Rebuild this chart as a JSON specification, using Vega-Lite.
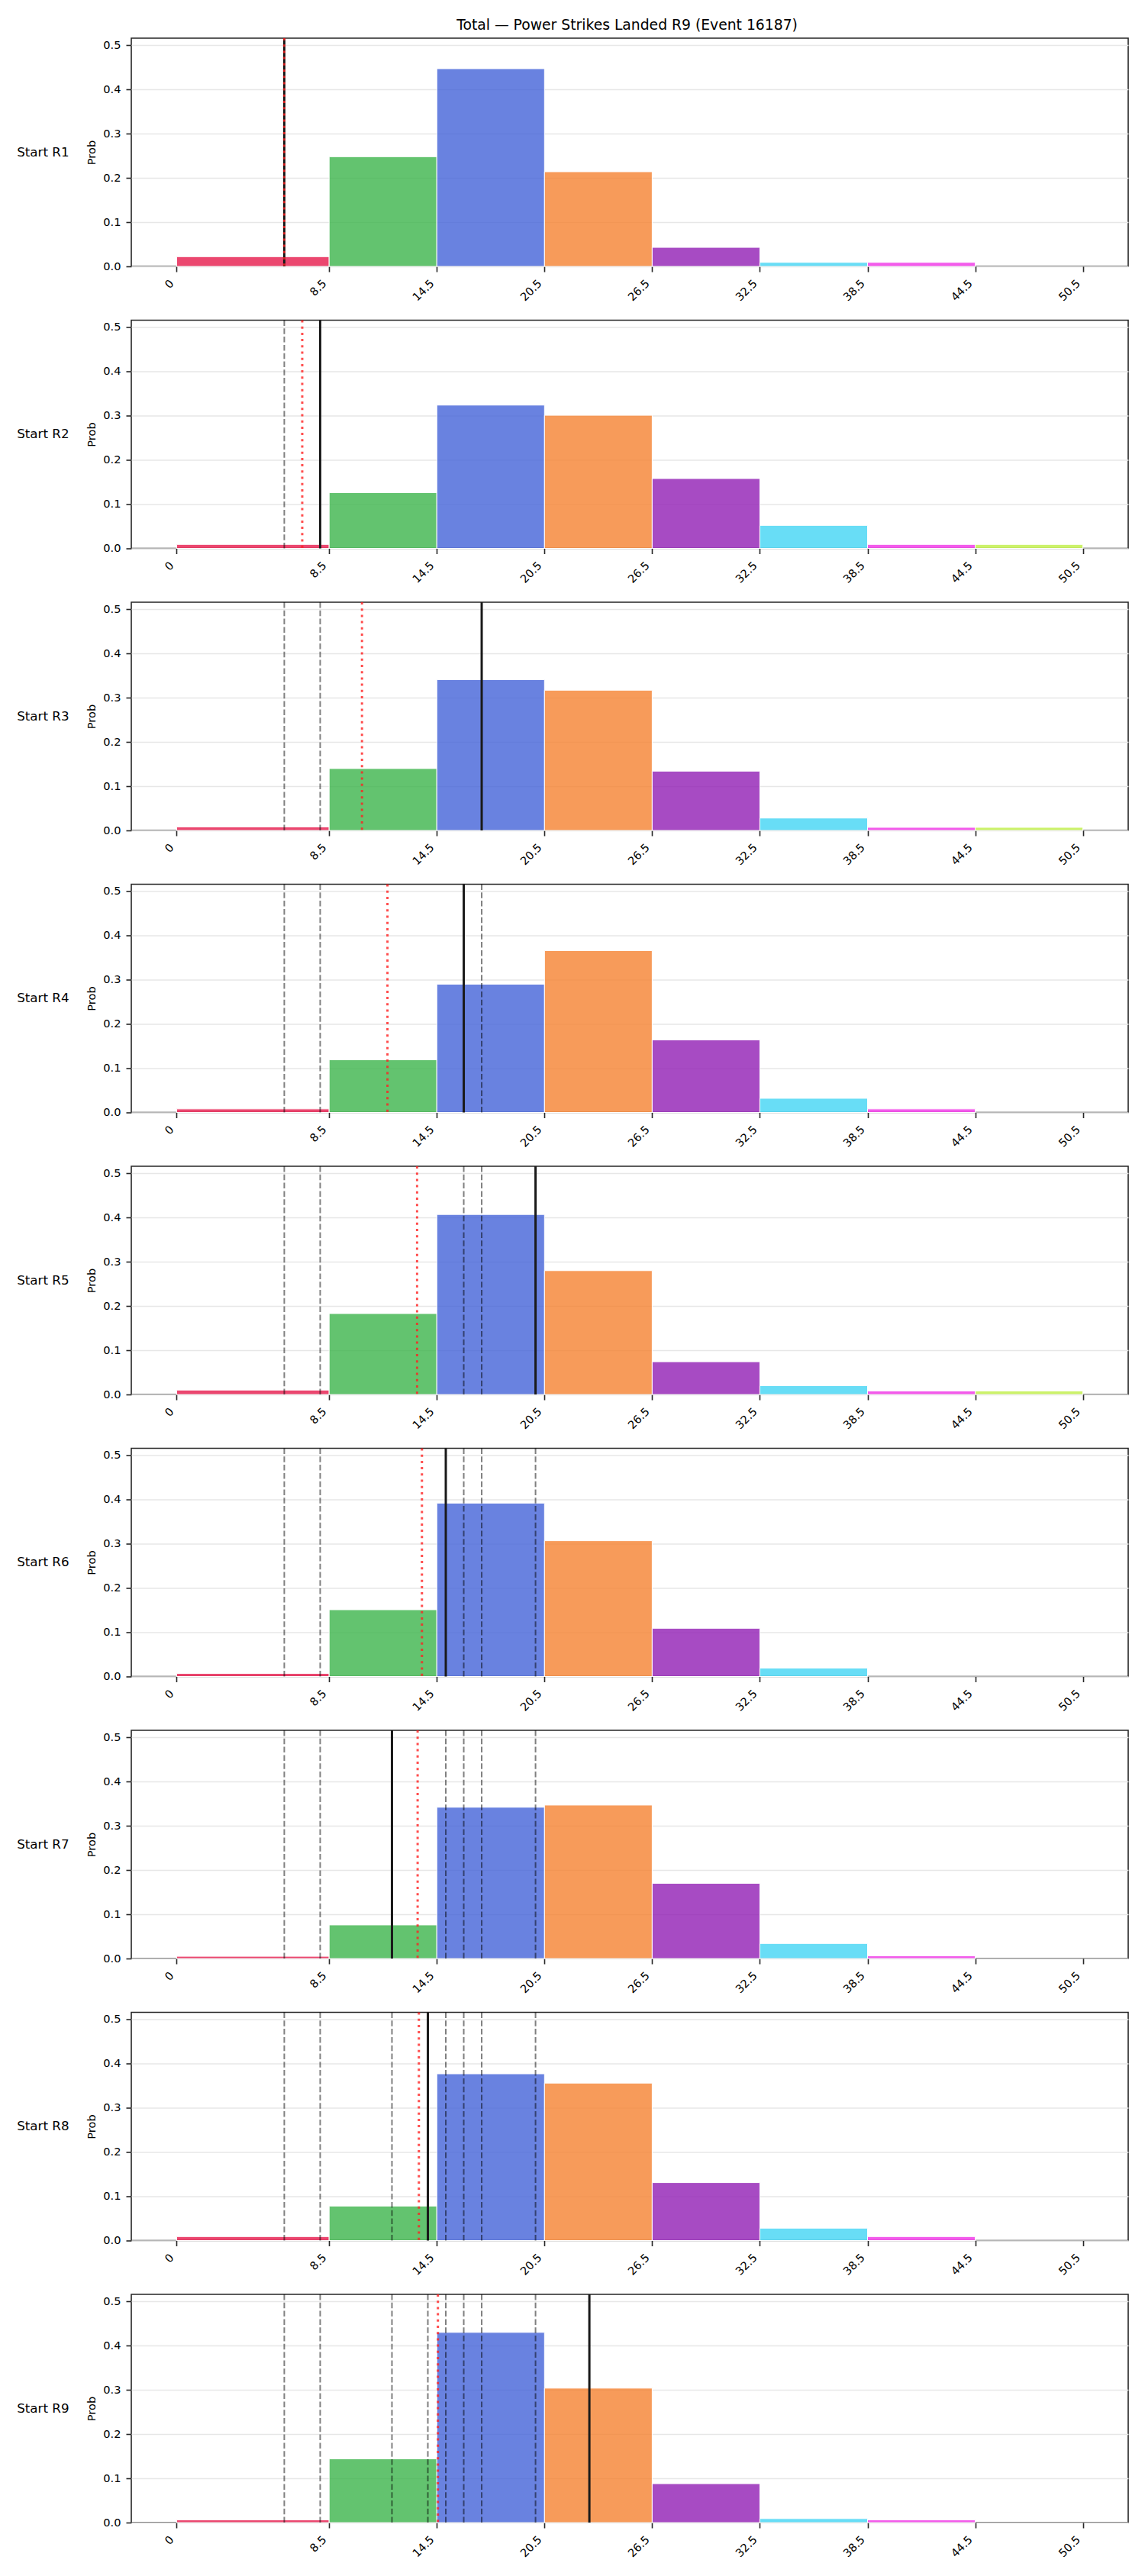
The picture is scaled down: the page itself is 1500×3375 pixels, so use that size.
{
  "$schema": "https://vega.github.io/schema/vega-lite/v6.json",
  "padding": {"left": 22, "top": 23, "right": 5, "bottom": 5},
  "background": "white",
  "title": {
    "text": "Total — Power Strikes Landed R9 (Event 16187)",
    "font": "DejaVu Sans",
    "fontSize": 18.75,
    "fontWeight": "normal",
    "color": "black",
    "anchor": "middle",
    "baseline": "alphabetic",
    "offset": -10,
    "dx": 71
  },
  "config": {
    "view": {"stroke": "#262626", "strokeWidth": 1.6},
    "font": "DejaVu Sans"
  },
  "data": {
    "values": [
      {"panel": "Start R1", "type": "bar", "bin": "0-8.5", "lo": 0, "hi": 8.5, "p": 0.022},
      {"panel": "Start R1", "type": "bar", "bin": "8.5-14.5", "lo": 8.5, "hi": 14.5, "p": 0.248},
      {"panel": "Start R1", "type": "bar", "bin": "14.5-20.5", "lo": 14.5, "hi": 20.5, "p": 0.447},
      {"panel": "Start R1", "type": "bar", "bin": "20.5-26.5", "lo": 20.5, "hi": 26.5, "p": 0.214},
      {"panel": "Start R1", "type": "bar", "bin": "26.5-32.5", "lo": 26.5, "hi": 32.5, "p": 0.043},
      {"panel": "Start R1", "type": "bar", "bin": "32.5-38.5", "lo": 32.5, "hi": 38.5, "p": 0.009},
      {"panel": "Start R1", "type": "bar", "bin": "38.5-44.5", "lo": 38.5, "hi": 44.5, "p": 0.009},

      {"panel": "Start R2", "type": "bar", "bin": "0-8.5", "lo": 0, "hi": 8.5, "p": 0.009},
      {"panel": "Start R2", "type": "bar", "bin": "8.5-14.5", "lo": 8.5, "hi": 14.5, "p": 0.126},
      {"panel": "Start R2", "type": "bar", "bin": "14.5-20.5", "lo": 14.5, "hi": 20.5, "p": 0.324},
      {"panel": "Start R2", "type": "bar", "bin": "20.5-26.5", "lo": 20.5, "hi": 26.5, "p": 0.301},
      {"panel": "Start R2", "type": "bar", "bin": "26.5-32.5", "lo": 26.5, "hi": 32.5, "p": 0.158},
      {"panel": "Start R2", "type": "bar", "bin": "32.5-38.5", "lo": 32.5, "hi": 38.5, "p": 0.052},
      {"panel": "Start R2", "type": "bar", "bin": "38.5-44.5", "lo": 38.5, "hi": 44.5, "p": 0.009},
      {"panel": "Start R2", "type": "bar", "bin": "44.5-50.5", "lo": 44.5, "hi": 50.5, "p": 0.009},

      {"panel": "Start R3", "type": "bar", "bin": "0-8.5", "lo": 0, "hi": 8.5, "p": 0.008},
      {"panel": "Start R3", "type": "bar", "bin": "8.5-14.5", "lo": 8.5, "hi": 14.5, "p": 0.140},
      {"panel": "Start R3", "type": "bar", "bin": "14.5-20.5", "lo": 14.5, "hi": 20.5, "p": 0.341},
      {"panel": "Start R3", "type": "bar", "bin": "20.5-26.5", "lo": 20.5, "hi": 26.5, "p": 0.317},
      {"panel": "Start R3", "type": "bar", "bin": "26.5-32.5", "lo": 26.5, "hi": 32.5, "p": 0.134},
      {"panel": "Start R3", "type": "bar", "bin": "32.5-38.5", "lo": 32.5, "hi": 38.5, "p": 0.028},
      {"panel": "Start R3", "type": "bar", "bin": "38.5-44.5", "lo": 38.5, "hi": 44.5, "p": 0.007},
      {"panel": "Start R3", "type": "bar", "bin": "44.5-50.5", "lo": 44.5, "hi": 50.5, "p": 0.007},

      {"panel": "Start R4", "type": "bar", "bin": "0-8.5", "lo": 0, "hi": 8.5, "p": 0.008},
      {"panel": "Start R4", "type": "bar", "bin": "8.5-14.5", "lo": 8.5, "hi": 14.5, "p": 0.119},
      {"panel": "Start R4", "type": "bar", "bin": "14.5-20.5", "lo": 14.5, "hi": 20.5, "p": 0.290},
      {"panel": "Start R4", "type": "bar", "bin": "20.5-26.5", "lo": 20.5, "hi": 26.5, "p": 0.366},
      {"panel": "Start R4", "type": "bar", "bin": "26.5-32.5", "lo": 26.5, "hi": 32.5, "p": 0.164},
      {"panel": "Start R4", "type": "bar", "bin": "32.5-38.5", "lo": 32.5, "hi": 38.5, "p": 0.032},
      {"panel": "Start R4", "type": "bar", "bin": "38.5-44.5", "lo": 38.5, "hi": 44.5, "p": 0.008},

      {"panel": "Start R5", "type": "bar", "bin": "0-8.5", "lo": 0, "hi": 8.5, "p": 0.010},
      {"panel": "Start R5", "type": "bar", "bin": "8.5-14.5", "lo": 8.5, "hi": 14.5, "p": 0.183},
      {"panel": "Start R5", "type": "bar", "bin": "14.5-20.5", "lo": 14.5, "hi": 20.5, "p": 0.407},
      {"panel": "Start R5", "type": "bar", "bin": "20.5-26.5", "lo": 20.5, "hi": 26.5, "p": 0.280},
      {"panel": "Start R5", "type": "bar", "bin": "26.5-32.5", "lo": 26.5, "hi": 32.5, "p": 0.074},
      {"panel": "Start R5", "type": "bar", "bin": "32.5-38.5", "lo": 32.5, "hi": 38.5, "p": 0.020},
      {"panel": "Start R5", "type": "bar", "bin": "38.5-44.5", "lo": 38.5, "hi": 44.5, "p": 0.008},
      {"panel": "Start R5", "type": "bar", "bin": "44.5-50.5", "lo": 44.5, "hi": 50.5, "p": 0.008},

      {"panel": "Start R6", "type": "bar", "bin": "0-8.5", "lo": 0, "hi": 8.5, "p": 0.007},
      {"panel": "Start R6", "type": "bar", "bin": "8.5-14.5", "lo": 8.5, "hi": 14.5, "p": 0.151},
      {"panel": "Start R6", "type": "bar", "bin": "14.5-20.5", "lo": 14.5, "hi": 20.5, "p": 0.392},
      {"panel": "Start R6", "type": "bar", "bin": "20.5-26.5", "lo": 20.5, "hi": 26.5, "p": 0.307},
      {"panel": "Start R6", "type": "bar", "bin": "26.5-32.5", "lo": 26.5, "hi": 32.5, "p": 0.109},
      {"panel": "Start R6", "type": "bar", "bin": "32.5-38.5", "lo": 32.5, "hi": 38.5, "p": 0.019},

      {"panel": "Start R7", "type": "bar", "bin": "0-8.5", "lo": 0, "hi": 8.5, "p": 0.005},
      {"panel": "Start R7", "type": "bar", "bin": "8.5-14.5", "lo": 8.5, "hi": 14.5, "p": 0.076},
      {"panel": "Start R7", "type": "bar", "bin": "14.5-20.5", "lo": 14.5, "hi": 20.5, "p": 0.342},
      {"panel": "Start R7", "type": "bar", "bin": "20.5-26.5", "lo": 20.5, "hi": 26.5, "p": 0.347},
      {"panel": "Start R7", "type": "bar", "bin": "26.5-32.5", "lo": 26.5, "hi": 32.5, "p": 0.170},
      {"panel": "Start R7", "type": "bar", "bin": "32.5-38.5", "lo": 32.5, "hi": 38.5, "p": 0.034},
      {"panel": "Start R7", "type": "bar", "bin": "38.5-44.5", "lo": 38.5, "hi": 44.5, "p": 0.006},

      {"panel": "Start R8", "type": "bar", "bin": "0-8.5", "lo": 0, "hi": 8.5, "p": 0.009},
      {"panel": "Start R8", "type": "bar", "bin": "8.5-14.5", "lo": 8.5, "hi": 14.5, "p": 0.078},
      {"panel": "Start R8", "type": "bar", "bin": "14.5-20.5", "lo": 14.5, "hi": 20.5, "p": 0.377},
      {"panel": "Start R8", "type": "bar", "bin": "20.5-26.5", "lo": 20.5, "hi": 26.5, "p": 0.356},
      {"panel": "Start R8", "type": "bar", "bin": "26.5-32.5", "lo": 26.5, "hi": 32.5, "p": 0.131},
      {"panel": "Start R8", "type": "bar", "bin": "32.5-38.5", "lo": 32.5, "hi": 38.5, "p": 0.028},
      {"panel": "Start R8", "type": "bar", "bin": "38.5-44.5", "lo": 38.5, "hi": 44.5, "p": 0.009},

      {"panel": "Start R9", "type": "bar", "bin": "0-8.5", "lo": 0, "hi": 8.5, "p": 0.006},
      {"panel": "Start R9", "type": "bar", "bin": "8.5-14.5", "lo": 8.5, "hi": 14.5, "p": 0.144},
      {"panel": "Start R9", "type": "bar", "bin": "14.5-20.5", "lo": 14.5, "hi": 20.5, "p": 0.430},
      {"panel": "Start R9", "type": "bar", "bin": "20.5-26.5", "lo": 20.5, "hi": 26.5, "p": 0.304},
      {"panel": "Start R9", "type": "bar", "bin": "26.5-32.5", "lo": 26.5, "hi": 32.5, "p": 0.088},
      {"panel": "Start R9", "type": "bar", "bin": "32.5-38.5", "lo": 32.5, "hi": 38.5, "p": 0.009},
      {"panel": "Start R9", "type": "bar", "bin": "38.5-44.5", "lo": 38.5, "hi": 44.5, "p": 0.006},

      {"panel": "Start R2", "type": "prev", "x": 6},
      {"panel": "Start R3", "type": "prev", "x": 6},
      {"panel": "Start R3", "type": "prev", "x": 8},
      {"panel": "Start R4", "type": "prev", "x": 6},
      {"panel": "Start R4", "type": "prev", "x": 8},
      {"panel": "Start R4", "type": "prev", "x": 17},
      {"panel": "Start R5", "type": "prev", "x": 6},
      {"panel": "Start R5", "type": "prev", "x": 8},
      {"panel": "Start R5", "type": "prev", "x": 17},
      {"panel": "Start R5", "type": "prev", "x": 16},
      {"panel": "Start R6", "type": "prev", "x": 6},
      {"panel": "Start R6", "type": "prev", "x": 8},
      {"panel": "Start R6", "type": "prev", "x": 17},
      {"panel": "Start R6", "type": "prev", "x": 16},
      {"panel": "Start R6", "type": "prev", "x": 20},
      {"panel": "Start R7", "type": "prev", "x": 6},
      {"panel": "Start R7", "type": "prev", "x": 8},
      {"panel": "Start R7", "type": "prev", "x": 17},
      {"panel": "Start R7", "type": "prev", "x": 16},
      {"panel": "Start R7", "type": "prev", "x": 20},
      {"panel": "Start R7", "type": "prev", "x": 15},
      {"panel": "Start R8", "type": "prev", "x": 6},
      {"panel": "Start R8", "type": "prev", "x": 8},
      {"panel": "Start R8", "type": "prev", "x": 17},
      {"panel": "Start R8", "type": "prev", "x": 16},
      {"panel": "Start R8", "type": "prev", "x": 20},
      {"panel": "Start R8", "type": "prev", "x": 15},
      {"panel": "Start R8", "type": "prev", "x": 12},
      {"panel": "Start R9", "type": "prev", "x": 6},
      {"panel": "Start R9", "type": "prev", "x": 8},
      {"panel": "Start R9", "type": "prev", "x": 17},
      {"panel": "Start R9", "type": "prev", "x": 16},
      {"panel": "Start R9", "type": "prev", "x": 20},
      {"panel": "Start R9", "type": "prev", "x": 15},
      {"panel": "Start R9", "type": "prev", "x": 12},
      {"panel": "Start R9", "type": "prev", "x": 14},

      {"panel": "Start R1", "type": "actual", "x": 6},
      {"panel": "Start R2", "type": "actual", "x": 8},
      {"panel": "Start R3", "type": "actual", "x": 17},
      {"panel": "Start R4", "type": "actual", "x": 16},
      {"panel": "Start R5", "type": "actual", "x": 20},
      {"panel": "Start R6", "type": "actual", "x": 15},
      {"panel": "Start R7", "type": "actual", "x": 12},
      {"panel": "Start R8", "type": "actual", "x": 14},
      {"panel": "Start R9", "type": "actual", "x": 23},

      {"panel": "Start R1", "type": "mean", "x": 6},
      {"panel": "Start R2", "type": "mean", "x": 7},
      {"panel": "Start R3", "type": "mean", "x": 10.33},
      {"panel": "Start R4", "type": "mean", "x": 11.75},
      {"panel": "Start R5", "type": "mean", "x": 13.4},
      {"panel": "Start R6", "type": "mean", "x": 13.67},
      {"panel": "Start R7", "type": "mean", "x": 13.43},
      {"panel": "Start R8", "type": "mean", "x": 13.5},
      {"panel": "Start R9", "type": "mean", "x": 14.56}
    ]
  },
  "facet": {
    "row": {
      "field": "panel",
      "type": "nominal",
      "header": {
        "title": null,
        "labelAngle": 0,
        "labelOrient": "left",
        "labelAlign": "right",
        "labelBaseline": "middle",
        "labelFont": "DejaVu Sans",
        "labelFontSize": 16.7,
        "labelColor": "black",
        "labelPadding": -46
      }
    }
  },
  "spacing": {"row": 70.5},
  "bounds": "flush",
  "resolve": {"axis": {"x": "independent"}},
  "spec": {
    "width": 1306,
    "height": 299,
    "layer": [
      {
        "transform": [{"filter": "datum.type === 'bar'"}],
        "mark": {"type": "rect", "fillOpacity": 0.8, "stroke": "white", "strokeWidth": 1},
        "encoding": {
          "x": {
            "field": "lo",
            "type": "quantitative",
            "title": null,
            "scale": {"domain": [-2.525, 53.025], "nice": false, "zero": false},
            "axis": {
              "values": [0, 8.5, 14.5, 20.5, 26.5, 32.5, 38.5, 44.5, 50.5],
              "labelExpr": "datum.value === 0 ? '0' : format(datum.value, '.1f')",
              "title": null,
              "grid": false,
              "domain": false,
              "tickSize": 7,
              "tickWidth": 1.6,
              "tickColor": "#262626",
              "labelAngle": -45,
              "labelAlign": "right",
              "labelBaseline": "middle",
              "labelOffset": -6,
              "labelPadding": 13,
              "labelFlush": false,
              "labelOverlap": false,
              "labelFont": "DejaVu Sans",
              "labelFontSize": 14.6,
              "labelColor": "black"
            }
          },
          "x2": {"field": "hi"},
          "y": {
            "field": "p",
            "type": "quantitative",
            "scale": {"domain": [0, 0.516], "nice": false},
            "axis": {
              "values": [0, 0.1, 0.2, 0.3, 0.4, 0.5],
              "format": ".1f",
              "title": "Prob",
              "titleFont": "DejaVu Sans",
              "titleFontSize": 14.6,
              "titleFontWeight": "normal",
              "titleColor": "black",
              "titlePadding": 7,
              "grid": true,
              "gridColor": "#e7e7e7",
              "gridWidth": 1.5,
              "domain": false,
              "tickSize": 7,
              "tickWidth": 1.6,
              "tickColor": "#262626",
              "labelPadding": 7,
              "labelFont": "DejaVu Sans",
              "labelFontSize": 14.6,
              "labelColor": "black"
            }
          },
          "y2": {"datum": 0},
          "color": {
            "field": "bin",
            "type": "nominal",
            "legend": null,
            "scale": {
              "domain": ["0-8.5", "8.5-14.5", "14.5-20.5", "20.5-26.5", "26.5-32.5", "32.5-38.5", "38.5-44.5", "44.5-50.5"],
              "range": ["#e6194B", "#3cb44b", "#4363d8", "#f58231", "#911eb4", "#42d4f4", "#f032e6", "#bfef45"]
            }
          }
        }
      },
      {
        "transform": [{"filter": "datum.type === 'prev'"}],
        "mark": {"type": "rule", "color": "black", "opacity": 0.5, "strokeWidth": 2, "strokeDash": [7.5, 3.3]},
        "encoding": {"x": {"field": "x", "type": "quantitative", "title": null}}
      },
      {
        "transform": [{"filter": "datum.type === 'actual'"}],
        "mark": {"type": "rule", "color": "#1a1a1a", "strokeWidth": 3},
        "encoding": {"x": {"field": "x", "type": "quantitative", "title": null}}
      },
      {
        "transform": [{"filter": "datum.type === 'mean'"}],
        "mark": {"type": "rule", "color": "#ff2020", "opacity": 0.8, "strokeWidth": 3, "strokeDash": [3, 5.2]},
        "encoding": {"x": {"field": "x", "type": "quantitative", "title": null}}
      }
    ]
  }
}
